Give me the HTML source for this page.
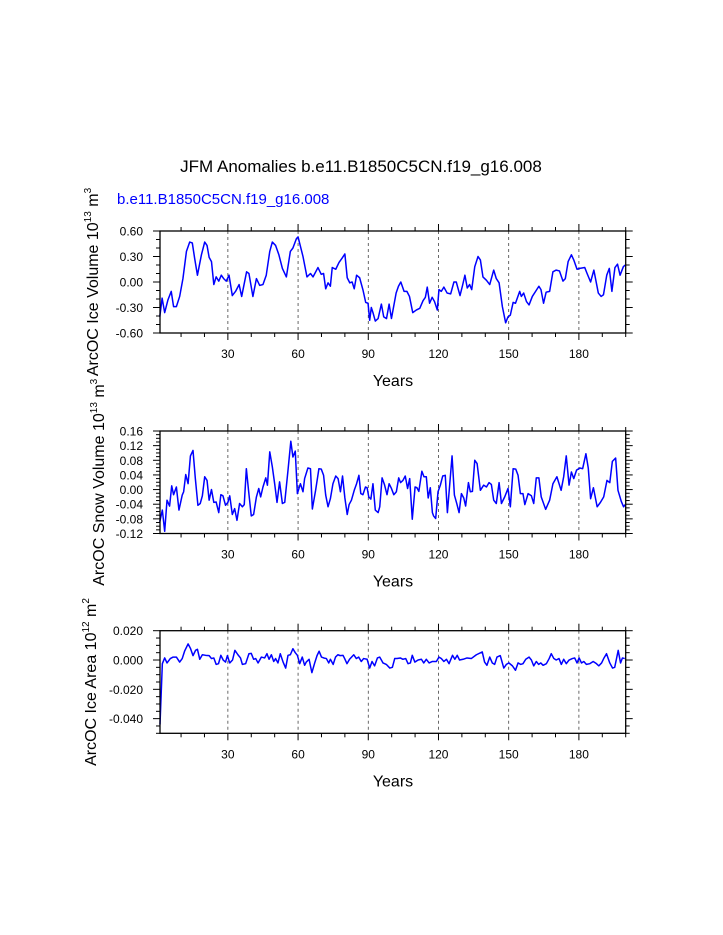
<!DOCTYPE html>
<html><head><meta charset="utf-8"><style>
html,body{margin:0;padding:0;background:#fff;}
svg{display:block;font-family:"Liberation Sans",Arial,sans-serif;}
</style></head><body>
<svg id="chart" width="723" height="935" viewBox="0 0 723 935" xmlns="http://www.w3.org/2000/svg">
<rect width="723" height="935" fill="#fff"/>
<text x="361" y="172" font-size="17" text-anchor="middle">JFM Anomalies b.e11.B1850C5CN.f19_g16.008</text>
<text x="117" y="204" font-size="15" fill="#0000ff">b.e11.B1850C5CN.f19_g16.008</text>
<g id="plots"></g>
</svg>
<script>
// Panel 1: Ice volume
const iceVolYears=[0.9,1.9,3,4.4,5.8,6.8,8,9.4,10.8,12.3,13.7,14.8,15.8,17,18.7,20.1,21.1,22,23,24,25,26.1,27.2,28.2,29.3,30.5,31.9,33.3,34.8,35.9,38,39,40.7,42.2,43.6,45,46.4,47.9,49,50.4,51.8,53.3,55,56.7,57.8,59.3,60,62.1,63.8,65.3,66.4,68.5,69.9,70.9,71.8,72.8,73.8,74.6,76.1,77.5,78.8,80,81,82.1,83.1,84,85,86.3,87.7,88.9,89.9,90.6,91.3,92,93,94.2,95.6,96.6,97.8,98.9,99.9,101.9,102.9,103.9,105.3,106.5,107.6,109,110.5,112,113.4,114.4,115.2,116.2,117.3,118.3,119.5,120.2,121.2,122.3,123.7,125.2,126.6,127.6,129.2,130.2,131.3,132.3,133.3,134.2,135.5,136.9,137.9,139,140.5,141.9,143.6,144.7,145.9,147.3,148.7,149.7,150.7,151.9,152.9,154.7,155.4,156.4,157.6,158.7,160.1,161.5,162.9,163.8,164.9,166,167.5,168.9,170.3,171.7,173.2,174.2,175.4,176.8,177.8,179.2,180.4,182.5,183.5,185,186.4,188.3,189.5,190.5,191.9,193,194.1,195.4,196.5,197.6,199,199.8];
const iceVolValues=[-0.41,-0.19,-0.36,-0.21,-0.11,-0.29,-0.29,-0.17,0.04,0.36,0.47,0.46,0.28,0.08,0.32,0.47,0.43,0.29,0.24,-0.03,0.06,0.01,0.08,0.04,0.01,0.08,-0.16,-0.11,-0.03,-0.17,0.12,0.10,-0.17,0.04,-0.04,-0.03,0.08,0.36,0.47,0.43,0.32,0.16,0.06,0.36,0.40,0.51,0.53,0.30,0.06,0.10,0.06,0.17,0.09,0.10,-0.08,-0.01,-0.05,0.17,0.15,0.23,0.28,0.33,0.05,-0.01,0.00,-0.08,0.08,0.05,-0.09,-0.24,-0.25,-0.45,-0.30,-0.36,-0.46,-0.43,-0.26,-0.41,-0.43,-0.26,-0.43,-0.13,-0.05,0.00,-0.11,-0.11,-0.17,-0.36,-0.33,-0.31,-0.22,-0.18,-0.06,-0.25,-0.18,-0.23,-0.33,-0.09,-0.11,-0.06,-0.13,-0.14,0.00,0.00,-0.16,-0.05,0.08,-0.07,-0.03,-0.09,0.18,0.30,0.26,0.06,0.02,-0.03,0.14,0.04,-0.01,-0.29,-0.48,-0.41,-0.39,-0.24,-0.25,-0.11,-0.17,-0.13,-0.23,-0.27,-0.17,-0.11,-0.05,-0.09,-0.25,-0.12,-0.11,0.12,0.14,0.13,0.01,0.04,0.24,0.32,0.26,0.15,0.16,0.17,0.10,0.00,0.14,-0.13,-0.17,-0.15,0.08,0.16,-0.11,0.17,0.21,0.08,0.18,0.20];
const iceVolTicks=[0.6,0.3,0,-0.3,-0.6];
const iceVolTickLabels=["0.60","0.30","0.00","-0.30","-0.60"];
// Panel 2: Snow volume
const snowYears=[0.9,2,3,4,5.1,6,6.8,8,9.1,10.5,11.1,12,13,14,15.1,16.1,17.2,18.2,19.1,20.1,21.1,22,23,24,25,26.1,27,27.9,29,30,30.8,31.9,32.9,33.9,35,36.2,37,37.9,38.9,40,41,42.2,43.2,44,45,46.2,46.9,47.9,49,50,51,52.1,53.3,54.3,55.7,56.9,57.8,58.8,59.7,61,62.1,62.8,64.2,65.3,66.1,67.5,68.9,69.9,70.9,71.8,72.8,73.8,74.9,76.1,77.1,78.1,79,80,81,81.8,82.8,84,85,86,86.8,87.7,88.8,89.5,90.2,91.1,92,93,94.2,94.9,95.9,96.9,98,98.9,99.9,100.9,102,103,103.8,104.8,105.8,106.8,107.7,108.8,110,110.8,111.6,112.9,113.8,114.8,115.6,116.5,117.4,117.9,118.8,119.8,120.8,121.8,122.9,123.8,124.8,125.8,126.8,127.8,128.8,129.8,130.8,131.6,132.8,133.6,134.5,135.5,136.5,137.9,139.3,140.5,141.6,142.6,143.6,144.7,145.9,146.9,148.3,149.7,150.7,151.9,153,154,155,156.1,156.9,158.3,159.7,160.7,161.8,162.9,163.9,165.8,167.5,168.9,170.6,172.4,173.5,174.6,175.8,176.8,177.8,179,180.4,181.6,183,184,185,186.2,187.8,189.2,190.6,192,193.2,194.3,195.7,196.7,198.1,199.1,199.8];
const snowValues=[-0.088,-0.056,-0.114,-0.029,-0.045,0.010,-0.014,0.007,-0.056,-0.015,-0.006,0.041,0.016,0.092,0.107,0.030,-0.043,-0.038,-0.017,0.035,0.025,-0.029,0.000,-0.035,-0.034,-0.063,-0.014,-0.017,-0.043,-0.035,-0.017,-0.068,-0.052,-0.084,-0.038,-0.047,-0.041,0.057,-0.006,-0.072,-0.068,-0.020,0.003,-0.020,0.007,0.032,0.012,0.103,0.062,0.016,-0.035,0.021,-0.038,-0.035,0.053,0.132,0.089,0.105,-0.011,0.016,-0.006,0.030,0.059,0.057,-0.053,-0.002,0.057,0.056,0.039,-0.015,-0.047,-0.025,0.016,0.037,0.030,-0.006,0.037,-0.023,-0.068,-0.041,-0.029,-0.002,0.016,0.039,-0.011,-0.014,0.007,0.005,-0.020,-0.026,0.016,-0.056,-0.063,-0.047,0.032,0.014,-0.014,0.016,0.003,-0.014,-0.006,0.032,0.019,0.025,0.037,0.003,0.030,-0.081,0.007,0.005,-0.005,0.050,0.035,0.035,-0.023,0.005,-0.063,-0.072,-0.079,-0.006,0.012,0.037,0.039,-0.063,0.014,0.092,-0.015,-0.038,-0.063,-0.011,-0.023,-0.045,0.019,-0.006,-0.005,0.080,0.071,-0.002,0.012,0.007,0.019,0.014,-0.029,-0.038,0.019,-0.038,-0.020,0.003,-0.047,0.057,0.056,0.039,-0.011,-0.011,-0.041,-0.011,-0.017,-0.038,0.032,0.032,-0.020,-0.054,-0.029,0.016,0.035,-0.002,0.035,0.092,0.012,0.048,0.030,0.053,0.059,0.057,0.098,0.059,-0.025,0.005,-0.047,-0.035,-0.020,0.025,0.019,0.077,0.086,-0.002,-0.032,-0.047,-0.041];
const snowTicks=[0.16,0.12,0.08,0.04,0,-0.04,-0.08,-0.12];
const snowTickLabels=["0.16","0.12","0.08","0.04","0.00","-0.04","-0.08","-0.12"];
// Panel 3: Ice area
const areaYears=[1,2,3,4,5.4,6.6,8,9.4,10.5,11.5,13,14,15.1,16.2,17,18,19.1,20.5,22,23,24,25,26,27,28,29,29.8,30.8,32,33,34.3,35.4,36.2,37.6,39,40,41,41.9,42.9,44.3,45.7,46.7,47.6,48.6,49.6,50.4,51.4,52.4,53.6,54.7,55.7,56.7,57.8,58.8,59.7,60.7,61.8,62.8,63.5,64.7,65.9,67.1,68.1,69,70,71,72.1,73.1,73.8,75,76,77,78,79.2,79.9,80.9,82,83.8,84.9,85.9,87,88,89.5,90.6,91.6,92.7,93.9,94.9,96.3,97.7,99.2,100.3,101.3,102.3,103.7,104.8,106,107,108,108.8,109.9,111.3,112.7,113.7,114.8,116,117.4,119.1,120.2,121.2,122.3,123.4,124.5,126,127,128,129,130.5,132.2,134,136.2,138.7,139.7,140.7,141.9,143,144,145,146.4,147.9,149,150.1,151.6,152.9,154,155.1,156.1,157.3,158.7,159.7,160.7,161.8,162.8,163.7,164.7,166.1,167.3,168.2,169.3,170.3,171.5,172.5,173.5,174.6,175.8,177.2,178.2,179.2,180.1,181.1,182.1,183.2,184.7,186.1,187.5,188.5,189.7,190.6,191.8,193.2,194.4,195.3,196.8,197.8,198.6,199.6];
const areaValues=[-0.044,-0.0025,0.0014,-0.002,0.001,0.002,0.002,-0.0014,0.001,0.006,0.011,0.008,0.003,0.0066,0.0073,0.0005,0.0036,0.0032,0.003,0.001,0.0014,-0.003,-0.0025,0.0032,0,-0.0014,0.003,-0.002,0,0.0066,0.0036,0.0014,-0.003,-0.0025,0.0043,0.0045,0.0005,0.001,-0.002,0.002,0.0014,0.0043,0.0005,0.0036,-0.001,0.001,-0.002,0.0043,-0.0014,-0.0055,0.0032,0.0036,0.0077,0.005,0.0032,-0.0025,0.002,-0.0036,-0.0014,0.0005,-0.0086,-0.002,0.003,0.006,0.002,0.0014,0.001,-0.002,0.0005,-0.003,0.002,0.0036,0.003,0.0032,0.001,-0.0025,0.0005,0.0036,0.001,0.002,-0.001,0.001,0.0005,-0.0055,-0.001,-0.004,0.0014,0.002,-0.002,-0.003,-0.0055,-0.005,0.001,0.001,0.0014,0.0005,0.001,-0.0025,-0.002,0.0032,-0.0014,0,0.0005,-0.002,0.0005,-0.002,-0.001,-0.001,0.002,0.001,-0.001,0.0005,-0.0025,0.0032,0.0005,0.0032,0,0.0005,0.0014,0.001,0.0036,0.0055,-0.0014,-0.0036,0.002,-0.002,-0.003,0.002,0.003,-0.0055,-0.003,-0.002,-0.004,-0.007,-0.002,-0.003,-0.0025,0.0005,0.002,0,-0.004,-0.001,-0.003,-0.002,-0.0036,-0.0025,0.001,0.0043,0.001,0,0.001,-0.003,0.0005,-0.0025,0,0.001,0.0014,-0.002,0.0014,-0.002,-0.001,-0.003,-0.0025,-0.001,-0.0025,-0.004,-0.002,0.001,0.0043,-0.002,-0.0055,-0.005,0.0066,-0.002,0.0014,0.001];
const areaTicks=[0.02,0,-0.02,-0.04];
const areaTickLabels=["0.020","0.000","-0.020","-0.040"];
const xTicks=[30,60,90,120,150,180];
const xTickLabels=["30","60","90","120","150","180"];

const NS="http://www.w3.org/2000/svg";
const root=document.getElementById('plots');
function mk(tag,attrs,parent){const e=document.createElementNS(NS,tag);for(const k in attrs)e.setAttribute(k,attrs[k]);(parent||root).appendChild(e);return e;}

const X0=160,X1=625.7,XMIN=1,XMAX=200;
function xs(v){return X0+(v-XMIN)/(XMAX-XMIN)*(X1-X0);}

function panel(cfg){
  const g=mk('g',{});
  
  
  const top=cfg.top,bot=cfg.bot;
  const ys=v=>top+(cfg.ymax-v)/(cfg.ymax-cfg.ymin)*(bot-top);
  // grid
  xTicks.forEach(t=>{
    const l=mk('line',{x1:xs(t),x2:xs(t),y1:top,y2:bot,stroke:'#444','stroke-width':0.8,'stroke-dasharray':'3,3'},g);
    
    
  });
  // series
  let d='';
  cfg.years.forEach((yr,i)=>{d+=(i?'L':'M')+xs(yr).toFixed(2)+','+ys(cfg.vals[i]).toFixed(2);});
  const p=mk('path',{d:d,fill:'none',stroke:'#0000ff','stroke-width':1.5,'stroke-linejoin':'round'},g);
  
  
  // frame
  const f=mk('rect',{x:X0,y:top,width:X1-X0,height:bot-top,fill:'none',stroke:'#000','stroke-width':1.3},g);
  
  
  // x ticks
  for(let t=10;t<=200;t+=10){
    const major=t%30===0;const L=major?7:4;
    mk('line',{x1:xs(t),x2:xs(t),y1:bot,y2:bot+L,stroke:'#000','stroke-width':1},g);
    mk('line',{x1:xs(t),x2:xs(t),y1:top,y2:top-L,stroke:'#000','stroke-width':1},g);
  }
  xTicks.forEach((t,i)=>{
    const tx=mk('text',{x:xs(t),y:bot+25,'font-size':12,'text-anchor':'middle'},g);
    tx.textContent=xTickLabels[i];
    
    
  });
  const xt=mk('text',{x:393,y:bot+53,'font-size':16,'text-anchor':'middle'},g);
  xt.textContent='Years';
  
  
  // y ticks
  const n=Math.round((cfg.ymax-cfg.ymin)/cfg.minor);
  for(let i=0;i<=n;i++){
    const v=cfg.ymax-i*cfg.minor;const major=i%cfg.per===0;const L=major?7:4;
    mk('line',{x1:X0,x2:X0-L,y1:ys(v),y2:ys(v),stroke:'#000','stroke-width':1},g);
    mk('line',{x1:X1,x2:X1+L,y1:ys(v),y2:ys(v),stroke:'#000','stroke-width':1},g);
  }
  cfg.ticks.forEach((v,i)=>{
    const tx=mk('text',{x:143,y:ys(v)+4.5,'font-size':12,'text-anchor':'end'},g);
    tx.textContent=cfg.labels[i];
    
    
  });
  const yt=mk('text',{x:0,y:0,'font-size':16,'text-anchor':'middle',transform:'translate('+cfg.tx+','+((top+bot)/2)+') rotate(-90)'},g);
  
  
  yt.innerHTML=cfg.title;
}
panel({name:'ice-volume-panel',top:231,bot:333,ymin:-0.6,ymax:0.6,minor:0.1,per:3,years:iceVolYears,vals:iceVolValues,ticks:iceVolTicks,labels:iceVolTickLabels,tx:98,
  title:'ArcOC Ice Volume 10<tspan font-size="10" dy="-7">13</tspan><tspan dy="7"> m</tspan><tspan font-size="10" dy="-7">3</tspan>'});
panel({name:'snow-volume-panel',top:431,bot:533.5,ymin:-0.12,ymax:0.16,minor:0.01,per:4,years:snowYears,vals:snowValues,ticks:snowTicks,labels:snowTickLabels,tx:104,
  title:'ArcOC Snow Volume 10<tspan font-size="10" dy="-7">13</tspan><tspan dy="7"> m</tspan><tspan font-size="10" dy="-7">3</tspan>'});
panel({name:'ice-area-panel',top:630.7,bot:733.3,ymin:-0.05,ymax:0.02,minor:0.005,per:4,years:areaYears,vals:areaValues,ticks:areaTicks,labels:areaTickLabels,tx:96,
  title:'ArcOC Ice Area 10<tspan font-size="10" dy="-7">12</tspan><tspan dy="7"> m</tspan><tspan font-size="10" dy="-7">2</tspan>'});
</script>
</body></html>
